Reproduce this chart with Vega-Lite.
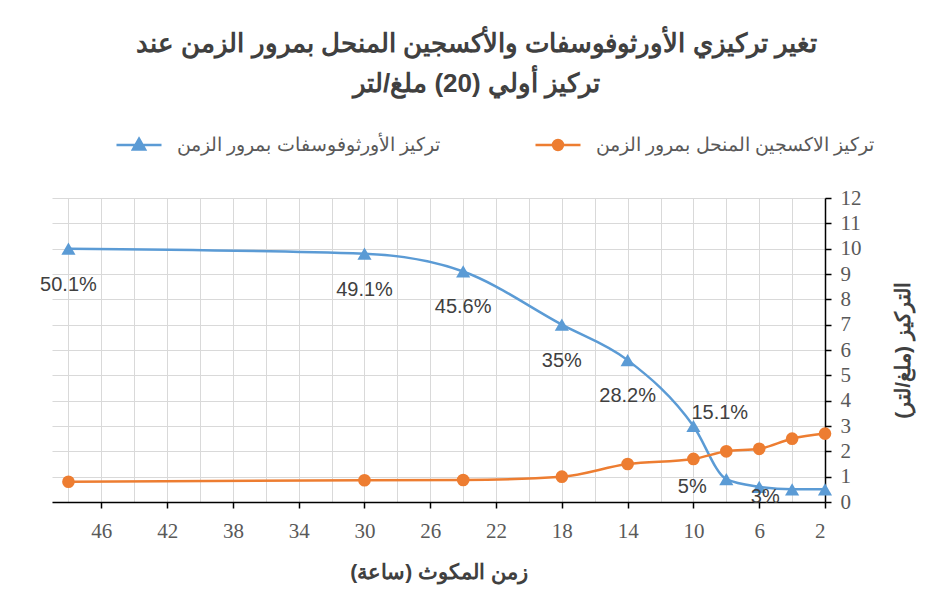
{
  "$schema": "https://vega.github.io/schema/vega-lite/v6.json",
  "width": 773,
  "height": 304,
  "autosize": {"type": "none"},
  "padding": {"left": 52, "top": 198, "right": 108, "bottom": 113},
  "background": "white",
  "title": {
    "text": ["تغير تركيزي الأورثوفوسفات والأكسجين المنحل بمرور الزمن عند", "تركيز أولي (20) ملغ/لتر"],
    "fontSize": 26,
    "fontWeight": "bold",
    "color": "#404040",
    "lineHeight": 40,
    "anchor": "middle",
    "frame": "group",
    "dx": 38,
    "offset": 24
  },
  "data": {
    "values": [
      {"hour": 48, "series": "تركيز الأورثوفوسفات بمرور الزمن", "value": 10.0, "label": "50.1%"},
      {"hour": 30, "series": "تركيز الأورثوفوسفات بمرور الزمن", "value": 9.8, "label": "49.1%"},
      {"hour": 24, "series": "تركيز الأورثوفوسفات بمرور الزمن", "value": 9.1, "label": "45.6%"},
      {"hour": 18, "series": "تركيز الأورثوفوسفات بمرور الزمن", "value": 7.0, "label": "35%"},
      {"hour": 14, "series": "تركيز الأورثوفوسفات بمرور الزمن", "value": 5.6, "label": "28.2%"},
      {"hour": 10, "series": "تركيز الأورثوفوسفات بمرور الزمن", "value": 3.0, "label": "15.1%"},
      {"hour": 8, "series": "تركيز الأورثوفوسفات بمرور الزمن", "value": 0.9, "label": "5%"},
      {"hour": 6, "series": "تركيز الأورثوفوسفات بمرور الزمن", "value": 0.6, "label": "3%"},
      {"hour": 4, "series": "تركيز الأورثوفوسفات بمرور الزمن", "value": 0.5, "label": ""},
      {"hour": 2, "series": "تركيز الأورثوفوسفات بمرور الزمن", "value": 0.5, "label": ""},
      {"hour": 48, "series": "تركيز الاكسجين المنحل بمرور الزمن", "value": 0.8, "label": ""},
      {"hour": 30, "series": "تركيز الاكسجين المنحل بمرور الزمن", "value": 0.86, "label": ""},
      {"hour": 24, "series": "تركيز الاكسجين المنحل بمرور الزمن", "value": 0.87, "label": ""},
      {"hour": 18, "series": "تركيز الاكسجين المنحل بمرور الزمن", "value": 1.0, "label": ""},
      {"hour": 14, "series": "تركيز الاكسجين المنحل بمرور الزمن", "value": 1.5, "label": ""},
      {"hour": 10, "series": "تركيز الاكسجين المنحل بمرور الزمن", "value": 1.7, "label": ""},
      {"hour": 8, "series": "تركيز الاكسجين المنحل بمرور الزمن", "value": 2.0, "label": ""},
      {"hour": 6, "series": "تركيز الاكسجين المنحل بمرور الزمن", "value": 2.1, "label": ""},
      {"hour": 4, "series": "تركيز الاكسجين المنحل بمرور الزمن", "value": 2.5, "label": ""},
      {"hour": 2, "series": "تركيز الاكسجين المنحل بمرور الزمن", "value": 2.7, "label": ""}
    ]
  },
  "encoding": {
    "x": {
      "field": "hour",
      "type": "quantitative",
      "scale": {"domain": [2, 49], "reverse": true, "nice": false, "zero": false},
      "axis": {
        "title": "زمن المكوث (ساعة)",
        "values": [2, 4, 6, 8, 10, 12, 14, 16, 18, 20, 22, 24, 26, 28, 30, 32, 34, 36, 38, 40, 42, 44, 46, 48],
        "labelExpr": "(datum.value - 2) % 4 === 0 ? datum.label : ''",
        "tickOpacity": {"condition": {"test": "(datum.value - 2) % 4 !== 0", "value": 0}, "value": 1},
        "grid": true,
        "gridColor": "#d9d9d9",
        "domainColor": "#000000",
        "domainWidth": 1.5,
        "tickColor": "#000000",
        "tickWidth": 1.5,
        "tickSize": 6,
        "labelColor": "#595959",
        "labelFont": "Liberation Sans Narrow",
        "labelFontSize": 21,
        "labelPadding": 12,
        "titleColor": "#404040",
        "titleFontSize": 21,
        "titleFontWeight": "bold",
        "titlePadding": 20
      }
    },
    "y": {
      "field": "value",
      "type": "quantitative",
      "scale": {"domain": [0, 12], "nice": false},
      "axis": {
        "orient": "right",
        "title": "التركيز (ملغ/لتر)",
        "values": [0, 1, 2, 3, 4, 5, 6, 7, 8, 9, 10, 11, 12],
        "grid": true,
        "gridColor": "#d9d9d9",
        "domainColor": "#000000",
        "domainWidth": 1.5,
        "tickColor": "#000000",
        "tickWidth": 1.5,
        "tickSize": 6,
        "labelColor": "#595959",
        "labelFont": "Liberation Sans Narrow",
        "labelFontSize": 21,
        "labelPadding": 9,
        "titleColor": "#404040",
        "titleFontSize": 21,
        "titleFontWeight": "bold",
        "titleAngle": 270,
        "titlePadding": 52
      }
    }
  },
  "layer": [
    {
      "mark": {"type": "line", "interpolate": "monotone", "strokeWidth": 2.5},
      "encoding": {
        "color": {
          "field": "series",
          "type": "nominal",
          "scale": {"domain": ["تركيز الأورثوفوسفات بمرور الزمن", "تركيز الاكسجين المنحل بمرور الزمن"], "range": ["#5B9BD5", "#ED7D31"]},
          "legend": {
            "title": null,
            "orient": "none",
            "legendX": 63,
            "legendY": -77,
            "direction": "horizontal",
            "symbolSize": 2025,
            "symbolStrokeWidth": 2.5,
            "labelFontSize": 19,
            "labelColor": "#595959",
            "labelLimit": 600,
            "labelOffset": 14,
            "columnPadding": 90,
            "encode": {
              "symbols": {
                "update": {
                  "shape": {"signal": "datum.value === 'تركيز الأورثوفوسفات بمرور الزمن' ? 'M-1,0H1M0,-0.28L0.27,0.2L-0.27,0.2Z' : 'M-1,0H1M0.22,0A0.22,0.22 0 1,1 -0.22,0A0.22,0.22 0 1,1 0.22,0Z'"},
                  "fill": {"signal": "scale('color', datum.value)"},
                  "stroke": {"signal": "scale('color', datum.value)"},
                  "strokeWidth": {"value": 2.5},
                  "opacity": {"value": 1}
                }
              }
            }
          }
        }
      }
    },
    {
      "transform": [{"filter": "datum.series === 'تركيز الأورثوفوسفات بمرور الزمن'"}],
      "mark": {"type": "point", "shape": "triangle-up", "filled": true, "opacity": 1, "size": 200, "color": "#5B9BD5"}
    },
    {
      "transform": [{"filter": "datum.series === 'تركيز الاكسجين المنحل بمرور الزمن'"}],
      "mark": {"type": "point", "shape": "circle", "filled": true, "opacity": 1, "size": 160, "color": "#ED7D31"}
    },
    {
      "transform": [{"filter": "datum.hour >= 14 && datum.label !== ''"}],
      "mark": {"type": "text", "dy": 36, "fontSize": 20, "color": "#404040", "align": "center"},
      "encoding": {"text": {"field": "label"}}
    },
    {
      "transform": [{"filter": "datum.hour === 10 && datum.label !== ''"}],
      "mark": {"type": "text", "dy": -13, "dx": -2, "fontSize": 20, "color": "#404040", "align": "left"},
      "encoding": {"text": {"field": "label"}}
    },
    {
      "transform": [{"filter": "datum.hour === 8 && datum.label !== ''"}],
      "mark": {"type": "text", "dy": 8, "dx": -34, "fontSize": 20, "color": "#404040", "align": "center"},
      "encoding": {"text": {"field": "label"}}
    },
    {
      "transform": [{"filter": "datum.hour === 6 && datum.label !== ''"}],
      "mark": {"type": "text", "dy": 10, "dx": 6, "fontSize": 20, "color": "#404040", "align": "center"},
      "encoding": {"text": {"field": "label"}}
    },
    {
      "data": {"values": [{"ax": "x"}]},
      "mark": {"type": "point", "shape": "triangle-left", "filled": true, "color": "#000000", "size": 110, "opacity": 1},
      "encoding": {"x": {"datum": 48.6, "type": "quantitative"}, "y": {"datum": 0, "type": "quantitative"}}
    },
    {
      "data": {"values": [{"ax": "y"}]},
      "mark": {"type": "point", "shape": "triangle-up", "filled": true, "color": "#000000", "size": 110, "opacity": 1},
      "encoding": {"x": {"datum": 2, "type": "quantitative"}, "y": {"datum": 11.75, "type": "quantitative"}}
    }
  ],
  "config": {
    "font": "Liberation Sans",
    "view": {"stroke": null}
  }
}
